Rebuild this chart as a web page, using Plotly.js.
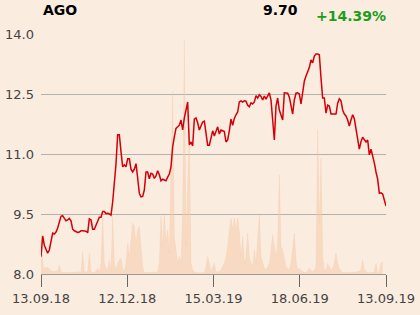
<!DOCTYPE html>
<html><head><meta charset="utf-8">
<script src="https://cdn.plot.ly/plotly-3.0.1.min.js"></script>
<style>html,body{margin:0;padding:0;background:#fbece0;}#c{width:420px;height:315px;}</style>
</head><body><div id="c"></div>
<script>
const symbol = "AGO";
const lastPrice = "9.70";
const change = "+14.39%";
const tickLabels = ["13.09.18","12.12.18","15.03.19","18.06.19","13.09.19"];
const yTicks = [8.0, 9.5, 11.0, 12.5, 14.0];
const price = [
8.43,8.95,8.72,8.62,8.52,8.60,8.81,9.02,9.00,9.05,9.15,9.30,9.44,9.46,9.40,9.33,9.35,9.39,9.33,9.12,
9.08,9.06,9.04,9.05,9.08,9.08,9.08,9.07,9.03,9.38,9.35,9.12,9.12,9.20,9.32,9.42,9.42,9.56,9.56,9.51,
9.52,9.50,9.47,9.80,10.30,10.75,11.48,11.48,11.06,10.68,10.73,10.68,10.88,10.88,10.62,10.55,10.62,10.76,10.40,10.02,
9.93,9.94,10.10,10.55,10.55,10.38,10.52,10.50,10.39,10.45,10.58,10.48,10.33,10.37,10.35,10.33,10.42,10.50,10.68,11.18,
11.43,11.64,11.68,11.72,11.85,11.60,11.90,12.15,12.30,11.23,11.30,11.20,11.87,11.90,11.78,11.60,11.68,11.80,11.82,11.45,
11.22,11.22,11.40,11.58,11.45,11.55,11.68,11.50,11.60,11.58,11.56,11.30,11.35,11.58,11.87,11.72,11.89,11.98,12.05,12.30,
12.33,12.30,12.33,12.32,12.22,12.18,12.28,12.25,12.30,12.46,12.40,12.48,12.44,12.35,12.45,12.37,12.45,12.53,12.35,11.80,
11.35,12.20,12.40,12.10,11.98,11.85,12.53,12.53,12.52,12.42,12.16,12.00,12.35,12.52,12.53,12.50,12.25,12.60,12.82,12.95,
13.06,13.16,13.35,13.28,13.45,13.50,13.50,13.48,12.90,12.40,12.40,12.02,12.22,12.20,12.00,12.00,12.00,12.00,12.27,12.38,
12.33,12.10,12.00,11.95,11.85,11.70,11.85,11.98,11.88,11.65,11.39,11.12,11.31,11.42,11.36,11.30,11.35,10.98,11.12,10.98,
10.78,10.55,10.37,10.02,10.03,10.00,9.85,9.70
];
const volume = [
132,32,17,18,20,14,10,8,7,8,10,27,7,4,4,4,4,4,4,4,
4,5,7,5,4,67,7,6,7,62,7,5,4,10,17,4,32,172,32,17,
12,42,7,172,32,12,32,42,47,17,7,32,92,52,112,152,142,92,132,142,
82,22,4,4,4,4,4,4,4,5,6,32,172,82,182,92,132,62,282,547,
112,72,32,52,32,182,700,82,282,432,32,12,7,4,4,4,4,4,4,22,
52,32,7,22,32,7,6,7,12,22,32,52,82,132,167,132,167,132,167,127,
52,112,32,52,122,52,32,22,72,32,92,177,52,32,17,12,20,32,72,117,
82,52,92,297,82,72,47,22,17,12,32,82,122,42,12,17,10,7,5,4,
10,17,10,7,12,22,432,152,347,52,12,12,32,22,12,17,32,62,32,17,
10,4,4,4,4,4,4,4,4,5,7,8,12,42,12,7,4,4,4,5,
7,32,4,7,32,37
];
const idx = price.map((_, i) => i);
const n = price.length - 1;
const tickIdx = tickLabels.map((_, i) => n * i / (tickLabels.length - 1));

const traces = [
  {x: idx, y: volume, type: 'scatter', mode: 'lines', fill: 'tozeroy',
   line: {color: 'rgba(245,200,165,0.5)', width: 0.5, shape: 'linear'},
   fillcolor: 'rgba(245,200,165,0.5)', yaxis: 'y', hoverinfo: 'skip'},
  {x: idx, y: price, type: 'scatter', mode: 'lines',
   line: {color: '#d20008', width: 1.5}, yaxis: 'y2', hoverinfo: 'skip'}
];
const layout = {
  width: 420, height: 315,
  paper_bgcolor: '#fbece0', plot_bgcolor: '#fbece0',
  margin: {l: 41, r: 34, t: 34, b: 41},
  showlegend: false,
  font: {family: 'DejaVu Sans', size: 13, color: '#444'},
  xaxis: {range: [0, n], tickvals: tickIdx, ticktext: tickLabels,
    showgrid: false, zeroline: false, showline: true, linecolor: '#9a9a9a', linewidth: 1,
    ticks: 'outside', ticklen: 12, tickcolor: '#666', tickwidth: 1,
    tickfont: {family: 'DejaVu Sans', size: 13, color: '#444'}},
  yaxis: {range: [0, 718], visible: false, showgrid: false, zeroline: false, fixedrange: true},
  yaxis2: {overlaying: 'y', side: 'left', range: [8, 14], tickvals: yTicks,
    ticktext: yTicks.map(v => v.toFixed(1)),
    showgrid: true, gridcolor: '#b4b0ac', gridwidth: 1, zeroline: false, showline: false,
    ticks: '', ticklabelstandoff: 6,
    tickfont: {family: 'DejaVu Sans', size: 13, color: '#444'}},
  annotations: [
    {text: '<b>' + symbol + '</b>', xref: 'paper', yref: 'paper', x: 0, y: 1.1,
     xanchor: 'left', yanchor: 'middle', showarrow: false,
     font: {family: 'DejaVu Sans', size: 14, color: '#000'}},
    {text: '<b>' + lastPrice + '</b>', xref: 'paper', yref: 'paper', x: 0.752, y: 1.1,
     xanchor: 'right', yanchor: 'middle', showarrow: false,
     font: {family: 'DejaVu Sans', size: 14, color: '#000'}},
    {text: '<b>' + change + '</b>', xref: 'paper', yref: 'paper', x: 1.006, y: 1.075,
     xanchor: 'right', yanchor: 'middle', showarrow: false,
     font: {family: 'DejaVu Sans', size: 14, color: '#1a9e1a'}}
  ]
};
Plotly.newPlot('c', traces, layout, {displayModeBar: false, staticPlot: true});
</script></body></html>
